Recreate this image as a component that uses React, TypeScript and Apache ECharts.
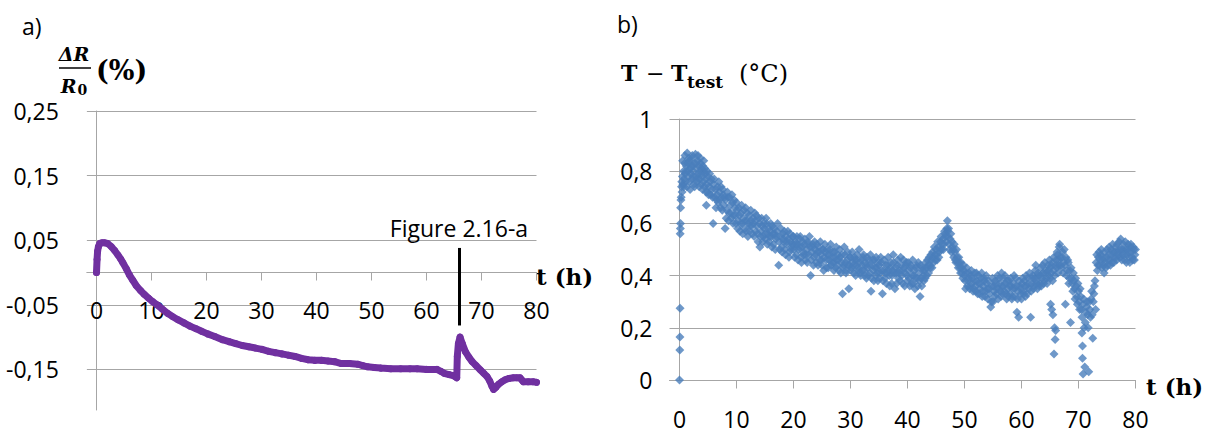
import React, { useEffect, useRef } from "react";
import * as echarts from "echarts";

// ---------- data ----------
const xTickLabels = [0, 10, 20, 30, 40, 50, 60, 70, 80];
const xTickMarks = [10, 20, 30, 40, 50, 60, 70, 80];
const leftYTicks = [-0.15, -0.05, 0.05, 0.15, 0.25];
const rightYTicks = [0, 0.2, 0.4, 0.6, 0.8, 1];

// a) ΔR/R0 (%) vs t (h)
const dRTime = [0, 0.1, 0.2, 0.35, 0.6, 1.0, 1.5, 2.0, 2.7, 3.3, 3.9, 4.4, 4.8, 5.4, 6.0, 6.6, 7.2, 8.0, 8.7, 9.5,
  10.2, 11.0, 12.0, 12.9, 13.8, 14.8, 15.9, 17.0, 18.1, 19.1, 20.2, 21.5, 22.9, 24.1, 25.3, 26.5, 27.7, 28.9,
  30.1, 31.3, 32.5, 33.7, 34.9, 36.1, 37.3, 38.5, 39.7, 40.9, 42.1, 43.3, 44.5, 46.0, 47.5, 48.4, 49.3, 50.5,
  51.7, 53.5, 55.3, 57.0, 58.3, 60.0, 61.9, 62.6, 63.2, 64.1, 65.0, 65.5, 65.6, 65.8, 66.1, 66.5, 67.1, 67.7,
  68.3, 69.0, 69.8, 70.4, 71.0, 71.5, 71.9, 72.2, 72.6, 73.1, 73.7, 74.3, 75.0, 75.8, 76.4, 77.0, 77.3, 77.6,
  78.5, 79.4, 80.0];
const dRValue = [0.0, 0.02, 0.033, 0.04, 0.045, 0.046, 0.046, 0.045, 0.04, 0.034, 0.027, 0.021, 0.015, 0.006,
  -0.004, -0.012, -0.02, -0.028, -0.034, -0.04, -0.045, -0.05, -0.057, -0.063, -0.068, -0.073, -0.078, -0.083,
  -0.087, -0.091, -0.095, -0.099, -0.104, -0.107, -0.11, -0.113, -0.115, -0.117, -0.119, -0.122, -0.124,
  -0.126, -0.128, -0.13, -0.133, -0.135, -0.136, -0.136, -0.137, -0.138, -0.141, -0.141, -0.142, -0.144,
  -0.146, -0.147, -0.148, -0.149, -0.149, -0.149, -0.149, -0.15, -0.15, -0.153, -0.156, -0.158, -0.16,
  -0.163, -0.13, -0.11, -0.1, -0.11, -0.123, -0.131, -0.138, -0.144, -0.151, -0.156, -0.161, -0.168, -0.176,
  -0.181, -0.178, -0.173, -0.169, -0.166, -0.164, -0.163, -0.163, -0.163, -0.166, -0.169, -0.169, -0.169, -0.17];

// b) T - Ttest (°C) vs t (h), [t, value]
const tempSeg0to10 = [[0, 0.0], [0.05, 0.115], [0.08, 0.165], [0.1, 0.275], [0.12, 0.56], [0.15, 0.58], [0.18, 0.6],
  [0.2, 0.66], [0.25, 0.69], [0.3, 0.7], [0.35, 0.74], [0.4, 0.76], [0.45, 0.72], [0.5, 0.78], [0.6, 0.75],
  [0.7, 0.8], [0.8, 0.77], [0.9, 0.83], [1.0, 0.79], [1.1, 0.76], [1.2, 0.82], [1.35, 0.87], [1.5, 0.8],
  [1.6, 0.78], [1.7, 0.84], [1.8, 0.76], [1.9, 0.81], [2.0, 0.79], [2.1, 0.85], [2.2, 0.77], [2.3, 0.82],
  [2.4, 0.8], [2.5, 0.75], [2.6, 0.83], [2.8, 0.865], [2.9, 0.78], [3.0, 0.81], [3.1, 0.76], [3.2, 0.84],
  [3.3, 0.79], [3.4, 0.82], [3.5, 0.77], [3.6, 0.8], [3.7, 0.83], [3.8, 0.75], [3.9, 0.81], [4.0, 0.78],
  [4.1, 0.82], [4.2, 0.76], [4.3, 0.8], [4.4, 0.74], [4.5, 0.79], [4.6, 0.77], [4.7, 0.67], [4.8, 0.75],
  [4.9, 0.72], [5.0, 0.78], [5.2, 0.74], [5.4, 0.76], [5.5, 0.71], [5.7, 0.73], [5.9, 0.6], [6.0, 0.75],
  [6.2, 0.7], [6.3, 0.73], [6.5, 0.69], [6.7, 0.74], [6.8, 0.68], [7.0, 0.72], [7.2, 0.66], [7.4, 0.7],
  [7.6, 0.73], [7.8, 0.67], [8.0, 0.58], [8.1, 0.69], [8.3, 0.65], [8.5, 0.7], [8.7, 0.64], [8.9, 0.67],
  [9.1, 0.62], [9.3, 0.68], [9.5, 0.63], [9.7, 0.66], [9.9, 0.6]];
const tempSeg10to20 = [[10.1, 0.65], [10.3, 0.61], [10.5, 0.63], [10.6, 0.57], [10.8, 0.64], [11.0, 0.6],
  [11.2, 0.62], [11.4, 0.58], [11.6, 0.66], [11.8, 0.61], [12.0, 0.55], [12.2, 0.63], [12.4, 0.59], [12.6, 0.61],
  [12.8, 0.56], [13.0, 0.6], [13.2, 0.64], [13.4, 0.57], [13.6, 0.59], [13.8, 0.53], [14.0, 0.6], [14.1, 0.51],
  [14.3, 0.57], [14.5, 0.59], [14.7, 0.55], [14.9, 0.58], [15.1, 0.54], [15.3, 0.6], [15.5, 0.56], [15.7, 0.53],
  [15.9, 0.57], [16.1, 0.55], [16.3, 0.59], [16.5, 0.52], [16.7, 0.56], [16.9, 0.54], [17.1, 0.57], [17.4, 0.44],
  [17.5, 0.53], [17.7, 0.55], [17.9, 0.51], [18.1, 0.56], [18.3, 0.53], [18.5, 0.5], [18.7, 0.55], [18.9, 0.52],
  [19.1, 0.54], [19.3, 0.49], [19.5, 0.53], [19.7, 0.51], [19.9, 0.55]];
const tempSeg20to30 = [[20.1, 0.5], [20.3, 0.53], [20.5, 0.48], [20.7, 0.52], [20.9, 0.5], [21.1, 0.54],
  [21.3, 0.47], [21.5, 0.51], [21.7, 0.49], [21.9, 0.52], [22.1, 0.46], [22.3, 0.5], [22.5, 0.53], [22.7, 0.48],
  [22.9, 0.51], [23.0, 0.4], [23.2, 0.49], [23.4, 0.52], [23.6, 0.47], [23.8, 0.5], [24.0, 0.45], [24.2, 0.49],
  [24.4, 0.51], [24.6, 0.46], [24.8, 0.48], [25.0, 0.44], [25.2, 0.5], [25.4, 0.47], [25.6, 0.49], [25.8, 0.43],
  [26.0, 0.48], [26.2, 0.46], [26.4, 0.5], [26.6, 0.44], [26.8, 0.47], [27.0, 0.45], [27.2, 0.49], [27.4, 0.43],
  [27.6, 0.46], [27.8, 0.48], [28.0, 0.42], [28.2, 0.47], [28.4, 0.45], [28.6, 0.33], [28.8, 0.44], [29.0, 0.48],
  [29.2, 0.41], [29.4, 0.46], [29.7, 0.35], [29.8, 0.44]];
const tempSeg30to43 = [[30.0, 0.47], [30.2, 0.43], [30.4, 0.45], [30.6, 0.41], [30.8, 0.46], [31.0, 0.44],
  [31.2, 0.48], [31.4, 0.42], [31.6, 0.45], [31.8, 0.4], [32.0, 0.44], [32.2, 0.47], [32.4, 0.42], [32.6, 0.45],
  [32.8, 0.39], [33.0, 0.43], [33.2, 0.46], [33.4, 0.41], [33.6, 0.34], [33.8, 0.44], [34.0, 0.42], [34.2, 0.46],
  [34.4, 0.4], [34.6, 0.43], [34.8, 0.38], [35.0, 0.44], [35.2, 0.41], [35.4, 0.45], [35.6, 0.33], [35.8, 0.42],
  [36.0, 0.39], [36.2, 0.44], [36.4, 0.41], [36.6, 0.47], [36.8, 0.4], [37.0, 0.43], [37.2, 0.37], [37.4, 0.42],
  [37.6, 0.45], [37.8, 0.35], [38.0, 0.41], [38.2, 0.44], [38.4, 0.39], [38.6, 0.42], [38.8, 0.47], [39.0, 0.4],
  [39.2, 0.37], [39.4, 0.43], [39.6, 0.41], [39.8, 0.45], [40.0, 0.38], [40.2, 0.42], [40.4, 0.36], [40.6, 0.44],
  [40.8, 0.4], [41.0, 0.37], [41.2, 0.42], [41.4, 0.39], [41.6, 0.44], [41.8, 0.36], [42.0, 0.41], [42.2, 0.32],
  [42.4, 0.39], [42.6, 0.43], [42.8, 0.4]];
const tempSeg43to50 = [[43.0, 0.42], [43.2, 0.45], [43.4, 0.4], [43.6, 0.44], [43.8, 0.47], [44.0, 0.43],
  [44.2, 0.46], [44.4, 0.49], [44.6, 0.45], [44.8, 0.48], [45.0, 0.5], [45.2, 0.46], [45.4, 0.51], [45.6, 0.49],
  [45.8, 0.53], [46.0, 0.5], [46.2, 0.54], [46.4, 0.52], [46.6, 0.56], [46.8, 0.53], [47.0, 0.61], [47.1, 0.55],
  [47.3, 0.52], [47.5, 0.54], [47.7, 0.49], [47.9, 0.51], [48.1, 0.47], [48.3, 0.49], [48.5, 0.45], [48.7, 0.47],
  [48.9, 0.43], [49.1, 0.45], [49.3, 0.41], [49.5, 0.43], [49.7, 0.39], [49.9, 0.42]];
const tempSeg50to65 = [[50.1, 0.38], [50.3, 0.41], [50.5, 0.36], [50.7, 0.39], [50.9, 0.35], [51.1, 0.4],
  [51.3, 0.37], [51.5, 0.34], [51.7, 0.38], [51.9, 0.36], [52.1, 0.41], [52.3, 0.33], [52.5, 0.37], [52.7, 0.35],
  [52.9, 0.39], [53.1, 0.32], [53.3, 0.36], [53.5, 0.38], [53.7, 0.34], [53.9, 0.37], [54.1, 0.31], [54.3, 0.35],
  [54.6, 0.28], [54.8, 0.36], [55.0, 0.3], [55.2, 0.34], [55.4, 0.38], [55.6, 0.33], [55.8, 0.4], [56.0, 0.35],
  [56.2, 0.37], [56.4, 0.32], [56.6, 0.36], [56.8, 0.39], [57.0, 0.34], [57.2, 0.37], [57.4, 0.31], [57.6, 0.35],
  [57.8, 0.38], [58.0, 0.33], [58.2, 0.36], [58.4, 0.32], [58.6, 0.37], [58.8, 0.35], [59.0, 0.39], [59.2, 0.26],
  [59.4, 0.34], [59.5, 0.24], [59.7, 0.36], [59.9, 0.33], [60.1, 0.37], [60.3, 0.34], [60.5, 0.38], [60.7, 0.32],
  [60.9, 0.36], [61.1, 0.39], [61.3, 0.35], [61.6, 0.24], [61.8, 0.37], [62.0, 0.4], [62.2, 0.36], [62.4, 0.42],
  [62.6, 0.38], [62.8, 0.35], [63.0, 0.4], [63.2, 0.37], [63.4, 0.43], [63.6, 0.39], [63.8, 0.41], [64.0, 0.38],
  [64.2, 0.42], [64.4, 0.39], [64.6, 0.44], [64.8, 0.4], [65.0, 0.43]];
const tempSeg65to73 = [[65.1, 0.29], [65.2, 0.41], [65.3, 0.27], [65.4, 0.45], [65.5, 0.25], [65.6, 0.42],
  [65.7, 0.1], [65.8, 0.2], [65.9, 0.155], [66.0, 0.19], [66.1, 0.46], [66.2, 0.43], [66.3, 0.48], [66.5, 0.44],
  [66.6, 0.51], [66.8, 0.47], [67.0, 0.43], [67.2, 0.49], [67.4, 0.45], [67.7, 0.29], [67.8, 0.47], [68.0, 0.42],
  [68.2, 0.45], [68.4, 0.39], [68.6, 0.22], [68.7, 0.43], [68.9, 0.37], [69.1, 0.41], [69.3, 0.35], [69.5, 0.39],
  [69.7, 0.32], [69.9, 0.37], [70.1, 0.3], [70.3, 0.35], [70.5, 0.27], [70.6, 0.18], [70.7, 0.13], [70.7, 0.083],
  [70.8, 0.023], [70.9, 0.31], [71.1, 0.05], [71.2, 0.22], [71.4, 0.28], [71.6, 0.25], [71.8, 0.032], [71.9, 0.3],
  [72.1, 0.24], [72.3, 0.34], [72.5, 0.16], [72.6, 0.3], [72.8, 0.36], [73.0, 0.27]];
const tempSeg73to80 = [[73.1, 0.45], [73.3, 0.42], [73.5, 0.47], [73.7, 0.44], [73.9, 0.48], [74.1, 0.43],
  [74.3, 0.46], [74.5, 0.41], [74.7, 0.45], [74.9, 0.47], [75.1, 0.44], [75.3, 0.48], [75.5, 0.46], [75.7, 0.5],
  [75.9, 0.45], [76.1, 0.49], [76.3, 0.47], [76.5, 0.51], [76.7, 0.46], [76.9, 0.49], [77.1, 0.53], [77.3, 0.47],
  [77.5, 0.5], [77.7, 0.48], [77.9, 0.52], [78.1, 0.46], [78.3, 0.5], [78.5, 0.48], [78.7, 0.52], [78.9, 0.47],
  [79.1, 0.51], [79.3, 0.49], [79.5, 0.46], [79.7, 0.5], [79.9, 0.48]];

// further readings filling the band of the scatter cloud
const tempFill0to10 = [[0.55, 0.84], [0.75, 0.74], [0.95, 0.86], [1.15, 0.8], [1.3, 0.74], [1.45, 0.83],
  [1.65, 0.85], [1.85, 0.73], [2.05, 0.82], [2.25, 0.86], [2.45, 0.78], [2.65, 0.74], [2.85, 0.83], [3.05, 0.77],
  [3.25, 0.86], [3.45, 0.74], [3.65, 0.85], [3.85, 0.79], [4.05, 0.73], [4.25, 0.84], [4.45, 0.81], [4.65, 0.72],
  [4.85, 0.8], [5.1, 0.71], [5.3, 0.79], [5.6, 0.77], [5.8, 0.7], [6.1, 0.77], [6.4, 0.66], [6.6, 0.71],
  [6.9, 0.76], [7.1, 0.69], [7.3, 0.74], [7.5, 0.65], [7.7, 0.71], [7.9, 0.7], [8.2, 0.62], [8.4, 0.72],
  [8.6, 0.61], [8.8, 0.7], [9.0, 0.64], [9.2, 0.71], [9.4, 0.6], [9.6, 0.69], [9.8, 0.63]];
const tempFill10to20 = [[10.0, 0.68], [10.2, 0.58], [10.4, 0.66], [10.7, 0.6], [10.9, 0.67], [11.1, 0.56],
  [11.3, 0.65], [11.5, 0.61], [11.7, 0.57], [11.9, 0.64], [12.1, 0.6], [12.3, 0.57], [12.5, 0.65], [12.7, 0.59],
  [12.9, 0.62], [13.1, 0.55], [13.3, 0.61], [13.5, 0.63], [13.7, 0.56], [13.9, 0.62], [14.2, 0.55], [14.4, 0.62],
  [14.6, 0.53], [14.8, 0.6], [15.0, 0.56], [15.2, 0.62], [15.4, 0.52], [15.6, 0.58], [15.8, 0.55], [16.0, 0.6],
  [16.2, 0.51], [16.4, 0.56], [16.6, 0.58], [16.8, 0.5], [17.0, 0.55], [17.2, 0.6], [17.6, 0.5], [17.8, 0.58],
  [18.0, 0.49], [18.2, 0.54], [18.4, 0.57], [18.6, 0.48], [18.8, 0.53], [19.0, 0.57], [19.2, 0.47], [19.4, 0.56],
  [19.6, 0.5], [19.8, 0.52]];
const tempFill20to30 = [[20.0, 0.55], [20.2, 0.47], [20.4, 0.52], [20.6, 0.55], [20.8, 0.46], [21.0, 0.51],
  [21.2, 0.55], [21.4, 0.45], [21.6, 0.53], [21.8, 0.48], [22.0, 0.54], [22.2, 0.48], [22.4, 0.45], [22.6, 0.52],
  [22.8, 0.55], [23.1, 0.46], [23.3, 0.51], [23.5, 0.44], [23.7, 0.53], [23.9, 0.48], [24.1, 0.52], [24.3, 0.44],
  [24.5, 0.49], [24.7, 0.53], [24.9, 0.46], [25.1, 0.5], [25.3, 0.42], [25.5, 0.52], [25.7, 0.46], [25.9, 0.5],
  [26.1, 0.43], [26.3, 0.48], [26.5, 0.52], [26.7, 0.45], [26.9, 0.49], [27.1, 0.42], [27.3, 0.47], [27.5, 0.51],
  [27.7, 0.44], [27.9, 0.46], [28.1, 0.5], [28.3, 0.41], [28.5, 0.48], [28.7, 0.43], [28.9, 0.51], [29.1, 0.45],
  [29.3, 0.42], [29.5, 0.49], [29.6, 0.44], [29.9, 0.47]];
const tempFill30to43 = [[30.1, 0.42], [30.3, 0.49], [30.5, 0.44], [30.7, 0.47], [30.9, 0.4], [31.1, 0.46],
  [31.3, 0.43], [31.5, 0.5], [31.7, 0.41], [31.9, 0.46], [32.1, 0.42], [32.3, 0.48], [32.5, 0.4], [32.7, 0.44],
  [32.9, 0.47], [33.1, 0.4], [33.3, 0.44], [33.5, 0.48], [33.7, 0.39], [33.9, 0.46], [34.1, 0.38], [34.3, 0.43],
  [34.5, 0.47], [34.7, 0.41], [34.9, 0.45], [35.1, 0.39], [35.3, 0.47], [35.5, 0.42], [35.7, 0.38], [35.9, 0.46],
  [36.1, 0.41], [36.3, 0.37], [36.5, 0.44], [36.7, 0.42], [36.9, 0.36], [37.1, 0.45], [37.3, 0.4], [37.5, 0.48],
  [37.7, 0.41], [37.9, 0.43], [38.1, 0.37], [38.3, 0.46], [38.5, 0.41], [38.7, 0.38], [38.9, 0.44], [39.1, 0.42],
  [39.3, 0.46], [39.5, 0.36], [39.7, 0.44], [39.9, 0.4], [40.1, 0.45], [40.3, 0.39], [40.5, 0.43], [40.7, 0.37],
  [40.9, 0.46], [41.1, 0.4], [41.3, 0.35], [41.5, 0.43], [41.7, 0.39], [41.9, 0.45], [42.1, 0.38], [42.3, 0.44],
  [42.5, 0.36], [42.7, 0.42], [42.9, 0.38]];
const tempFill43to50 = [[43.1, 0.39], [43.3, 0.43], [43.5, 0.46], [43.7, 0.41], [43.9, 0.44], [44.1, 0.48],
  [44.3, 0.43], [44.5, 0.47], [44.7, 0.51], [44.9, 0.46], [45.1, 0.48], [45.3, 0.53], [45.5, 0.47], [45.7, 0.5],
  [45.9, 0.55], [46.1, 0.52], [46.3, 0.5], [46.5, 0.57], [46.7, 0.55], [46.9, 0.58], [47.05, 0.57], [47.2, 0.58],
  [47.4, 0.5], [47.6, 0.56], [47.8, 0.53], [48.0, 0.5], [48.2, 0.52], [48.4, 0.46], [48.6, 0.5], [48.8, 0.45],
  [49.0, 0.47], [49.2, 0.43], [49.4, 0.45], [49.6, 0.41], [49.8, 0.44]];
const tempFill50to65 = [[50.0, 0.4], [50.2, 0.35], [50.4, 0.43], [50.6, 0.38], [50.8, 0.41], [51.0, 0.36],
  [51.2, 0.42], [51.4, 0.39], [51.6, 0.35], [51.8, 0.41], [52.0, 0.34], [52.2, 0.38], [52.4, 0.4], [52.6, 0.33],
  [52.8, 0.37], [53.0, 0.41], [53.2, 0.34], [53.4, 0.39], [53.6, 0.32], [53.8, 0.4], [54.0, 0.35], [54.2, 0.38],
  [54.4, 0.33], [54.7, 0.3], [54.9, 0.39], [55.1, 0.36], [55.3, 0.32], [55.5, 0.37], [55.7, 0.35], [55.9, 0.31],
  [56.1, 0.39], [56.3, 0.34], [56.5, 0.41], [56.7, 0.33], [56.9, 0.36], [57.1, 0.4], [57.3, 0.33], [57.5, 0.38],
  [57.7, 0.32], [57.9, 0.36], [58.1, 0.39], [58.3, 0.31], [58.5, 0.35], [58.7, 0.4], [58.9, 0.32], [59.1, 0.36],
  [59.3, 0.31], [59.6, 0.38], [59.8, 0.35], [60.0, 0.31], [60.2, 0.39], [60.4, 0.33], [60.6, 0.36], [60.8, 0.4],
  [61.0, 0.33], [61.2, 0.37], [61.4, 0.41], [61.7, 0.34], [61.9, 0.39], [62.1, 0.35], [62.3, 0.39], [62.5, 0.44],
  [62.7, 0.37], [62.9, 0.41], [63.1, 0.36], [63.3, 0.4], [63.5, 0.36], [63.7, 0.44], [63.9, 0.37], [64.1, 0.45],
  [64.3, 0.41], [64.5, 0.37], [64.7, 0.42], [64.9, 0.46]];
const tempFill65to73 = [[65.05, 0.39], [65.25, 0.44], [65.45, 0.38], [65.65, 0.47], [65.85, 0.4], [66.05, 0.44],
  [66.25, 0.49], [66.4, 0.41], [66.55, 0.46], [66.7, 0.52], [66.9, 0.44], [67.1, 0.47], [67.3, 0.41], [67.5, 0.5],
  [67.6, 0.44], [67.9, 0.4], [68.1, 0.46], [68.3, 0.37], [68.5, 0.42], [68.8, 0.39], [69.0, 0.34], [69.2, 0.38],
  [69.4, 0.31], [69.6, 0.36], [69.8, 0.29], [70.0, 0.34], [70.2, 0.27], [70.4, 0.32], [70.6, 0.24], [70.8, 0.29],
  [71.0, 0.2], [71.3, 0.26], [71.5, 0.3], [71.7, 0.2], [72.0, 0.27], [72.2, 0.31], [72.4, 0.25], [72.7, 0.33],
  [72.9, 0.38]];
const tempFill73to80 = [[73.2, 0.48], [73.4, 0.44], [73.6, 0.49], [73.8, 0.46], [74.0, 0.5], [74.2, 0.47],
  [74.4, 0.44], [74.6, 0.49], [74.8, 0.43], [75.0, 0.5], [75.2, 0.46], [75.4, 0.51], [75.6, 0.44], [75.8, 0.48],
  [76.0, 0.52], [76.2, 0.45], [76.4, 0.49], [76.6, 0.47], [76.8, 0.52], [77.0, 0.48], [77.2, 0.5], [77.4, 0.54],
  [77.6, 0.46], [77.8, 0.5], [78.0, 0.48], [78.2, 0.53], [78.4, 0.45], [78.6, 0.5], [78.8, 0.49], [79.0, 0.45],
  [79.2, 0.52], [79.4, 0.47], [79.6, 0.51], [79.8, 0.46], [80.0, 0.5]];

// "Figure 2.16-a" marker lines: [t, top value, bottom value]
const figMarkLeft = [65.9, 0.038, -0.082];
const figMarkRight = [67.0, 0.663, -0.011];
const figLabel = "Figure 2.16-a";

// ---------- styles ----------
const SANS = "'Open Sans', 'Noto Sans', sans-serif";
const SERIF = "'DejaVu Serif', serif";
const GRID_GRAY = "#a6a6a6";
const PURPLE = "#7030A0";
const BLUE = "#4A7EBB";

// panel geometry
const X_MIN = -1.75;
const X_MAX = 80;
const LEFT_Y_MIN = -0.21285;
const LEFT_Y_MAX = 0.25;
const LEFT_GRID = { left: 86.875, top: 111, width: 449.625, height: 299 };
const RIGHT_GRID = { left: 669.525, top: 119, width: 465.975, height: 261 };
const TICK_PX = 8;

const fmt = (v: number) => {
  if (Math.abs(v) < 1e-9) return "0";
  const s = String(Math.round(v * 100) / 100);
  return s.replace(".", ",");
};

const crisp = (v: number) => Math.floor(v) + 0.5;

export default function App() {
  const ref = useRef<HTMLDivElement>(null);
  useEffect(() => {
    if (!ref.current) return;
    const chart = echarts.init(ref.current, undefined, { renderer: "svg" });
    const leftData = dRTime.map((t, i) => [t, dRValue[i]]);
    const tempData = [
      ...tempSeg0to10, ...tempSeg10to20, ...tempSeg20to30, ...tempSeg30to43,
      ...tempSeg43to50, ...tempSeg50to65, ...tempSeg65to73, ...tempSeg73to80,
      ...tempFill0to10, ...tempFill10to20, ...tempFill20to30, ...tempFill30to43,
      ...tempFill43to50, ...tempFill50to65, ...tempFill65to73, ...tempFill73to80,
    ];
    const leftPerPx = (LEFT_Y_MAX - LEFT_Y_MIN) / LEFT_GRID.height;
    // shift the left t axis up from the grid bottom to the value 0
    const zeroOffset = -(0 - LEFT_Y_MIN) / leftPerPx;
    const axisLabelStyle = { fontFamily: SANS, fontSize: 23, color: "#000" };
    const mkLine = (m: number[], dist: number) => ({
      silent: true,
      symbol: ["none", "none"],
      animation: false,
      emphasis: { disabled: true },
      lineStyle: { color: "#000", width: 3, type: "solid" },
      label: {
        show: true,
        position: "start",
        formatter: figLabel,
        fontFamily: SANS,
        fontSize: 23,
        color: "#000",
        distance: dist,
      },
      data: [[{ coord: [m[0], m[1]] }, { coord: [m[0], m[2]] }]],
    });

    chart.setOption({
      animation: false,
      backgroundColor: "#fff",
      grid: [
        { ...LEFT_GRID, containLabel: false, outerBoundsMode: "none" },
        { ...RIGHT_GRID, containLabel: false, outerBoundsMode: "none" },
      ],
      xAxis: [
        {
          gridIndex: 0, type: "value", min: X_MIN, max: X_MAX, position: "bottom", offset: zeroOffset,
          axisLine: { show: true, onZero: false, lineStyle: { color: GRID_GRAY, width: 1 } },
          axisTick: { show: false, customValues: xTickMarks },
          axisLabel: { ...axisLabelStyle, customValues: xTickLabels, margin: 26 },
          splitLine: { show: false },
        },
        {
          gridIndex: 1, type: "value", min: X_MIN, max: X_MAX,
          axisLine: { show: true, onZero: true, lineStyle: { color: GRID_GRAY, width: 1 } },
          axisTick: { show: false, customValues: xTickMarks },
          axisLabel: { ...axisLabelStyle, customValues: xTickLabels, margin: 27 },
          splitLine: { show: false },
        },
      ],
      yAxis: [
        {
          gridIndex: 0, type: "value", min: LEFT_Y_MIN, max: LEFT_Y_MAX,
          axisLine: { show: true, onZero: true, lineStyle: { color: GRID_GRAY, width: 1 } },
          axisTick: { show: false, customValues: leftYTicks },
          axisLabel: { ...axisLabelStyle, customValues: leftYTicks, margin: 28, formatter: fmt },
          splitLine: { show: true, lineStyle: { color: GRID_GRAY, width: 1 } },
        },
        {
          gridIndex: 1, type: "value", min: 0, max: 1,
          axisLine: { show: true, onZero: true, lineStyle: { color: GRID_GRAY, width: 1 } },
          axisTick: { show: false, customValues: rightYTicks },
          axisLabel: { ...axisLabelStyle, customValues: rightYTicks, margin: 17, formatter: fmt },
          splitLine: { show: true, lineStyle: { color: GRID_GRAY, width: 1 } },
        },
      ],
      series: [
        {
          type: "line",
          xAxisIndex: 0, yAxisIndex: 0,
          data: leftData,
          showSymbol: true,
          symbol: "circle",
          symbolSize: 7,
          itemStyle: { color: PURPLE },
          lineStyle: { color: PURPLE, width: 7, cap: "round", join: "round" },
          clip: false,
          markLine: mkLine(figMarkLeft, 8),
          z: 3,
        },
        {
          type: "scatter",
          xAxisIndex: 1, yAxisIndex: 1,
          data: tempData,
          symbol: "diamond",
          symbolSize: 9,
          itemStyle: { color: BLUE },
          clip: false,
          markLine: mkLine(figMarkRight, 6),
          z: 3,
        },
      ],
    });

    // time axes at value 0 and their tick marks, placed through the chart's own scales
    const axisGraphics: any[] = [];
    [0, 1].forEach((gi) => {
      const a = chart.convertToPixel({ gridIndex: gi }, [X_MIN, 0]) as number[];
      const b = chart.convertToPixel({ gridIndex: gi }, [X_MAX, 0]) as number[];
      const y = crisp(a[1]);
      axisGraphics.push({
        type: "line", silent: true, z: 1,
        shape: { x1: a[0], y1: y, x2: b[0], y2: y },
        style: { stroke: GRID_GRAY, lineWidth: 1 },
      });
      xTickMarks.forEach((t) => {
        const p = chart.convertToPixel({ gridIndex: gi }, [t, 0]) as number[];
        const x = crisp(p[0]);
        axisGraphics.push({
          type: "line", silent: true, z: 1,
          shape: { x1: x, y1: y, x2: x, y2: y + TICK_PX },
          style: { stroke: GRID_GRAY, lineWidth: 1 },
        });
      });
    });

    chart.setOption({
      graphic: [
        ...axisGraphics,
        { type: "text", left: 22, top: 14, style: { text: "a)", font: `23px ${SANS}`, fill: "#000" } },
        { type: "text", left: 617, top: 12, style: { text: "b)", font: `23px ${SANS}`, fill: "#000" } },
        // ΔR / R0 (%)
        { type: "text", x: 74, y: 54, style: { text: "ΔR", font: `italic bold 19px ${SERIF}`, fill: "#000", align: "center", verticalAlign: "middle" } },
        { type: "line", shape: { x1: 59, y1: 68, x2: 91, y2: 68 }, style: { stroke: "#000", lineWidth: 1.5 } },
        {
          type: "text", x: 74, y: 86,
          style: {
            text: "{r|R}{s|0}", align: "center", verticalAlign: "middle", fill: "#000",
            rich: {
              r: { font: `italic bold 19px ${SERIF}`, fill: "#000" },
              s: { font: `bold 14px ${SERIF}`, fill: "#000", padding: [8, 0, 0, 1] },
            },
          },
        },
        { type: "text", x: 96, y: 70, style: { text: "(%)", font: `bold 27px ${SERIF}`, fill: "#000", verticalAlign: "middle" } },
        // T − Ttest (°C)
        { type: "text", x: 621, y: 73, style: { text: "T", font: `bold 22px ${SERIF}`, fill: "#000", verticalAlign: "middle" } },
        { type: "text", x: 646, y: 73, style: { text: "−", font: `22px ${SERIF}`, fill: "#000", verticalAlign: "middle" } },
        { type: "text", x: 671, y: 73, style: { text: "T", font: `bold 22px ${SERIF}`, fill: "#000", verticalAlign: "middle" } },
        { type: "text", x: 687, y: 82, style: { text: "test", font: `bold 17px ${SERIF}`, fill: "#000", verticalAlign: "middle" } },
        { type: "text", x: 739, y: 74, style: { text: "(°C)", font: `24px ${SERIF}`, fill: "#000", verticalAlign: "middle" } },
        // axis titles
        { type: "text", x: 536, y: 276, style: { text: "t (h)", font: `bold 23px ${SERIF}`, fill: "#000", verticalAlign: "middle" } },
        { type: "text", x: 1146, y: 386, style: { text: "t (h)", font: `bold 23px ${SERIF}`, fill: "#000", verticalAlign: "middle" } },
      ],
    });
    return () => chart.dispose();
  }, []);
  return (
    <div
      ref={ref}
      style={{ position: "fixed", left: 0, top: 0, width: 1212, height: 433, background: "#fff" }}
    />
  );
}
